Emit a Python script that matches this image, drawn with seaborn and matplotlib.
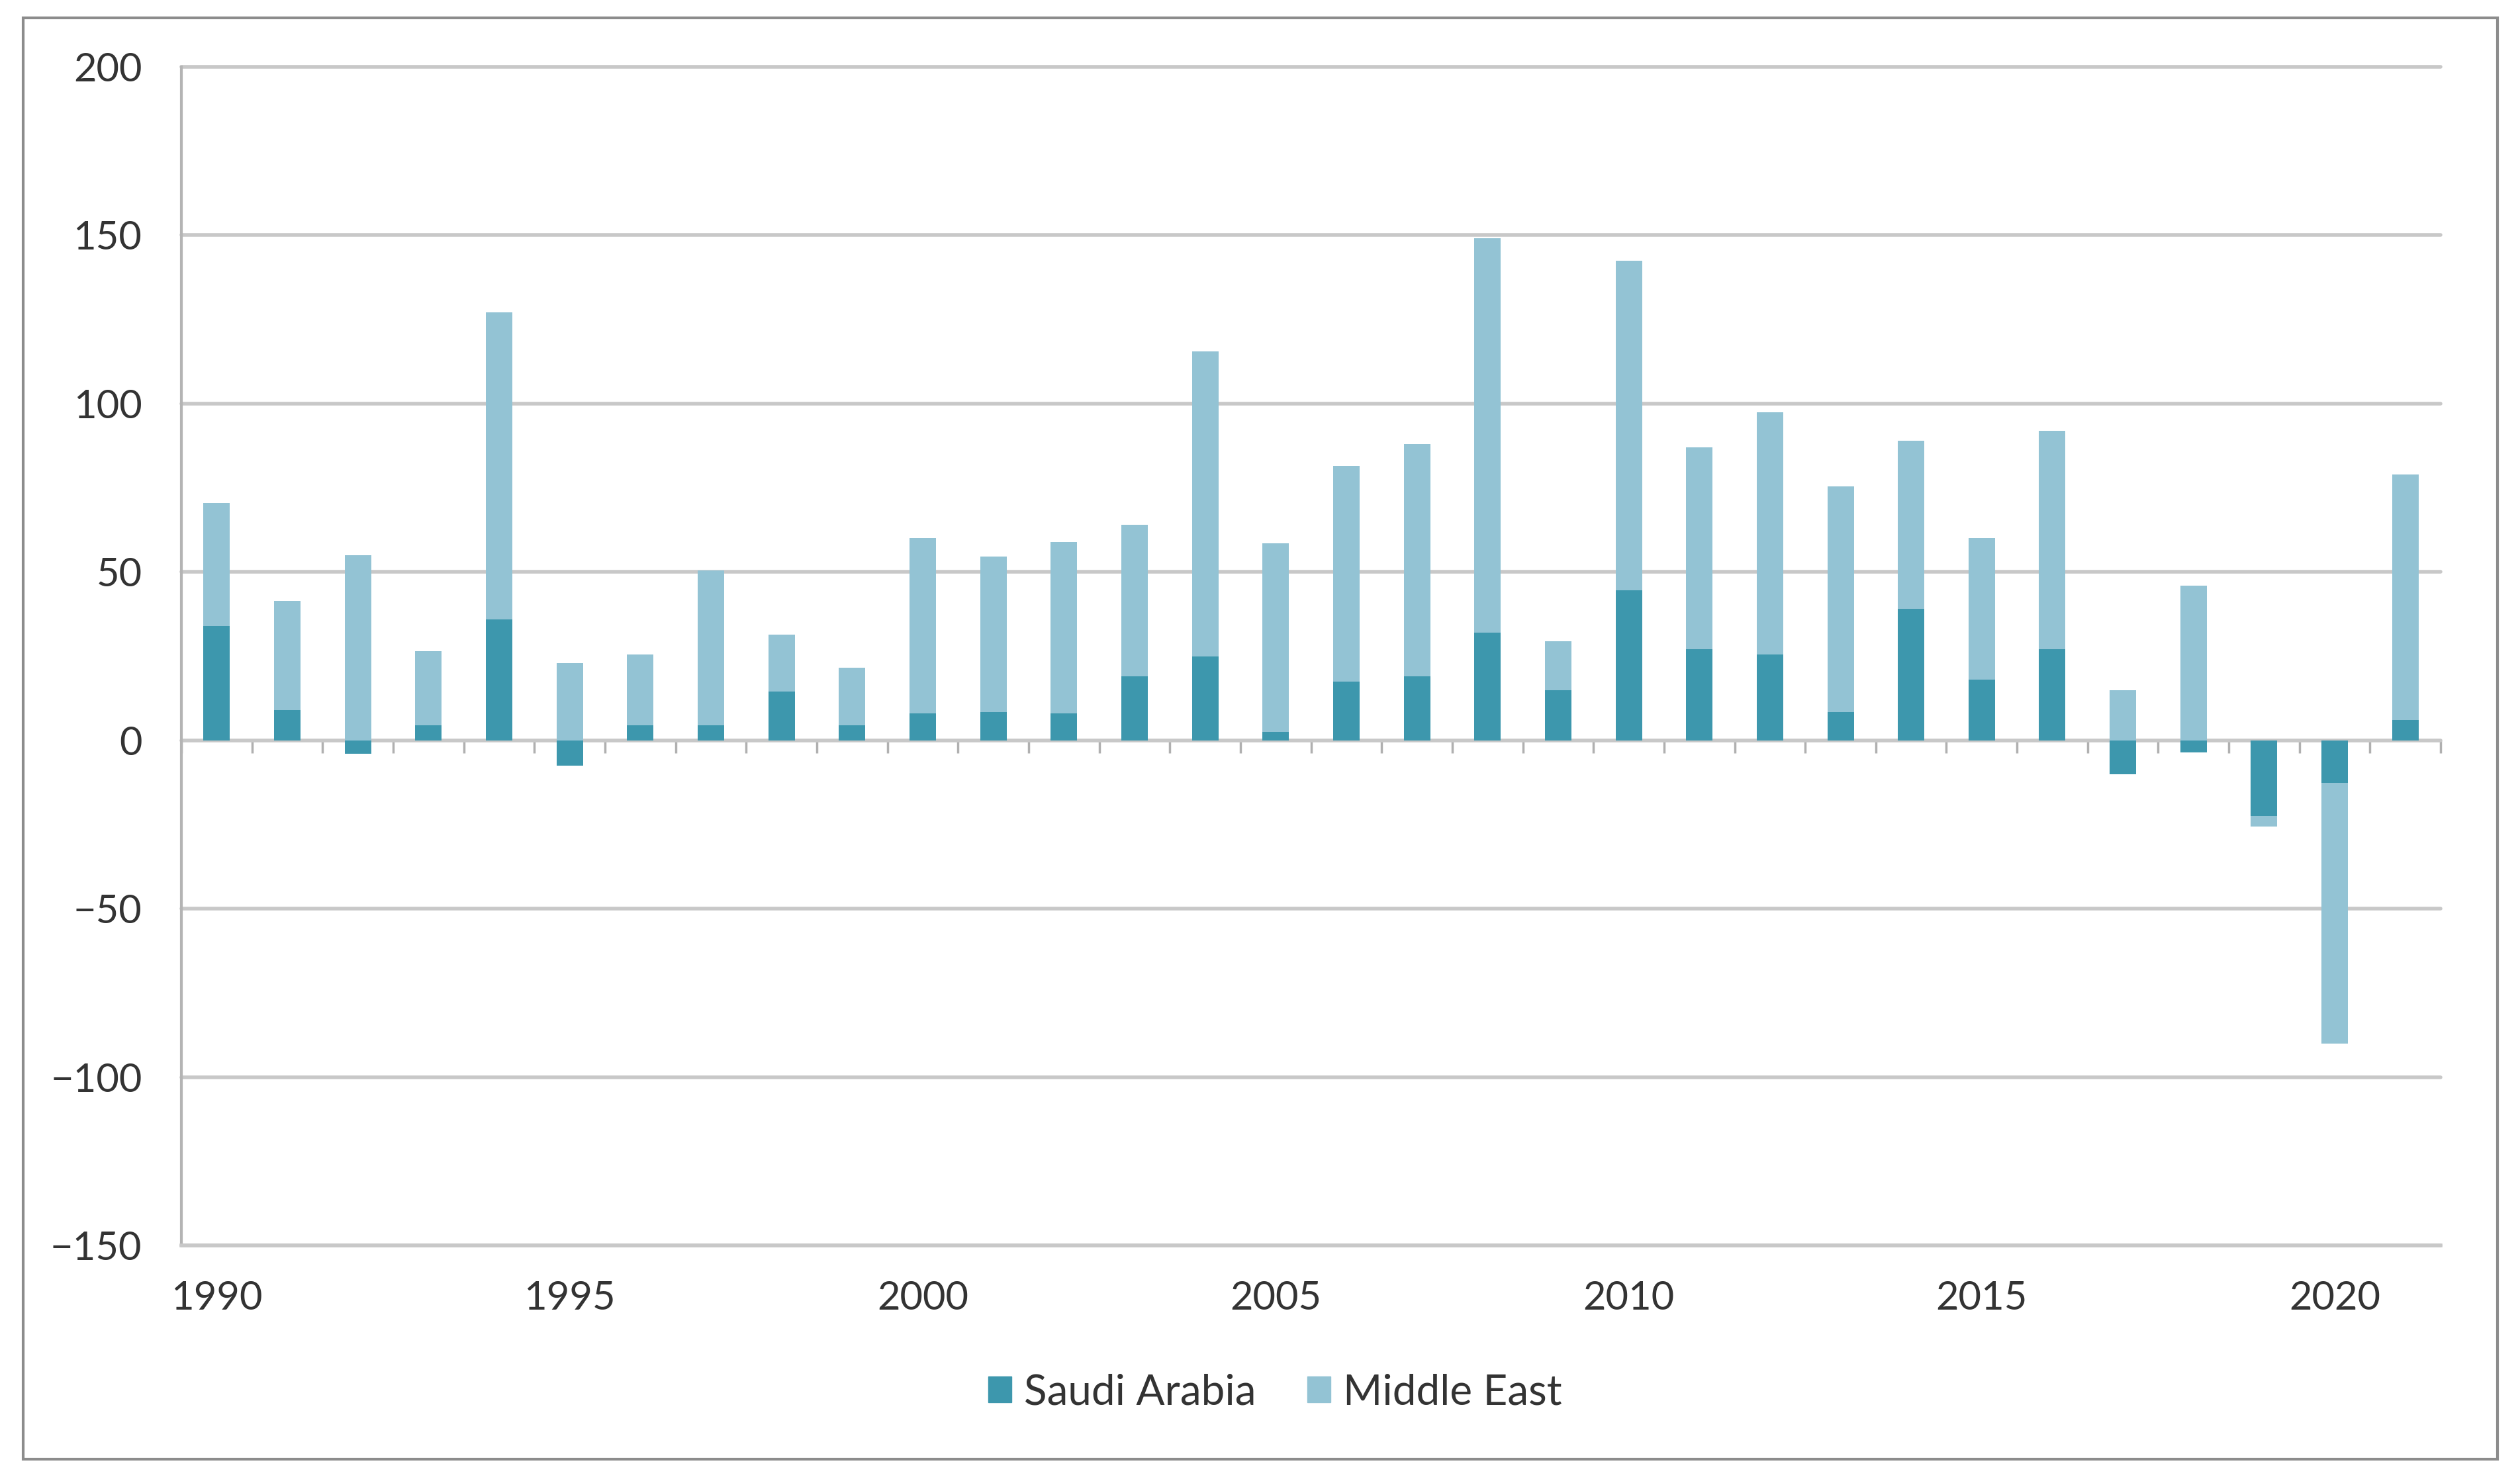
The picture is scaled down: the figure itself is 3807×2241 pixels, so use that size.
import numpy as np
import pandas as pd
import seaborn as sns
import matplotlib.pyplot as plt
from matplotlib.patches import Patch, Rectangle

years = list(range(1990, 2022))
saudi_arabia = [34, 9, -4, 4.5, 36, -7.5, 4.5, 4.5, 14.5, 4.5,
                8, 8.5, 8, 19, 25, 2.5, 17.5, 19, 32, 15,
                44.5, 27, 25.5, 8.5, 39, 18, 27, -10, -3.5, -22.5,
                -12.5, 6]
middle_east = [36.5, 32.5, 55, 22, 91, 23, 21, 46, 17, 17,
               52, 46, 51, 45, 90.5, 56, 64, 69, 117, 14.5,
               98, 60, 72, 67, 50, 42, 65, 15, 46, -3,
               -77.5, 73]
year_labels = ['1990', '1995', '2000', '2005', '2010', '2015', '2020']

dark = '#3d97ad'
light = '#93c3d4'
grid_col = '#c8c8c8'
text_col = '#333333'

df = pd.DataFrame({'year': [str(y) for y in years],
                   'saudi': saudi_arabia, 'me': middle_east})
# stacked like Excel: positives stack on positives, negatives on negatives
same_sign = np.sign(df['saudi']) == np.sign(df['me'])
df['top'] = np.where(same_sign, df['saudi'], 0) + df['me']

sns.set_style('white')
plt.rcParams['font.family'] = ['Lato', 'DejaVu Sans']

fig = plt.figure(figsize=(38.07, 22.41), dpi=100)
ax = fig.add_axes([0.072, 0.160, 0.8965, 0.795])

order = df['year'].tolist()
sns.barplot(data=df, x='year', y='top', order=order, color=light,
            saturation=1, width=0.375, linewidth=0, errorbar=None, ax=ax)
sns.barplot(data=df, x='year', y='saudi', order=order, color=dark,
            saturation=1, width=0.375, linewidth=0, errorbar=None, ax=ax)

ax.set_xlim(-0.5, len(years) - 0.5)
ax.set_ylim(-150, 200)
ax.set_yticks(np.arange(-150, 201, 50))
ax.set_xticks([years.index(int(y)) for y in year_labels])
ax.set_xticklabels(year_labels)
ax.set_xlabel('')
ax.set_ylabel('')

ax.set_axisbelow(True)
ax.yaxis.grid(True, color=grid_col, linewidth=4)
for gl in ax.get_ygridlines():
    gl.set_clip_on(False)

for s in ['top', 'right']:
    ax.spines[s].set_visible(False)
ax.spines['left'].set_color('#b4b4b4')
ax.spines['left'].set_linewidth(3)
ax.spines['bottom'].set_color(grid_col)
ax.spines['bottom'].set_linewidth(4)

ax.tick_params(axis='y', length=15, width=3, color='#b4b4b4',
               labelsize=43, labelcolor=text_col, pad=28)
ax.tick_params(axis='x', length=0, labelsize=43, labelcolor=text_col, pad=38)

# small category ticks on the zero line
sec = ax.secondary_xaxis(150 / 350)
sec.set_xticks(np.arange(-0.5, len(years), 1))
sec.tick_params(axis='x', length=14, width=2.5, color='#b0b0b0',
                labelbottom=False, labeltop=False)
for s in sec.spines.values():
    s.set_visible(False)

handles = [Patch(color=dark, label='Saudi Arabia'),
           Patch(color=light, label='Middle East')]
fig.legend(handles=handles, loc='center', bbox_to_anchor=(0.506, 0.061),
           ncol=2, frameon=False, fontsize=46, handlelength=0.55,
           handleheight=0.55, handletextpad=0.3, columnspacing=1.2,
           labelcolor=text_col)

fig.patches.append(Rectangle((0.0092, 0.016), 0.9818, 0.972,
                             transform=fig.transFigure, fill=False,
                             edgecolor='#8c8c8c', linewidth=3))

fig.savefig('out.png', dpi=100)
